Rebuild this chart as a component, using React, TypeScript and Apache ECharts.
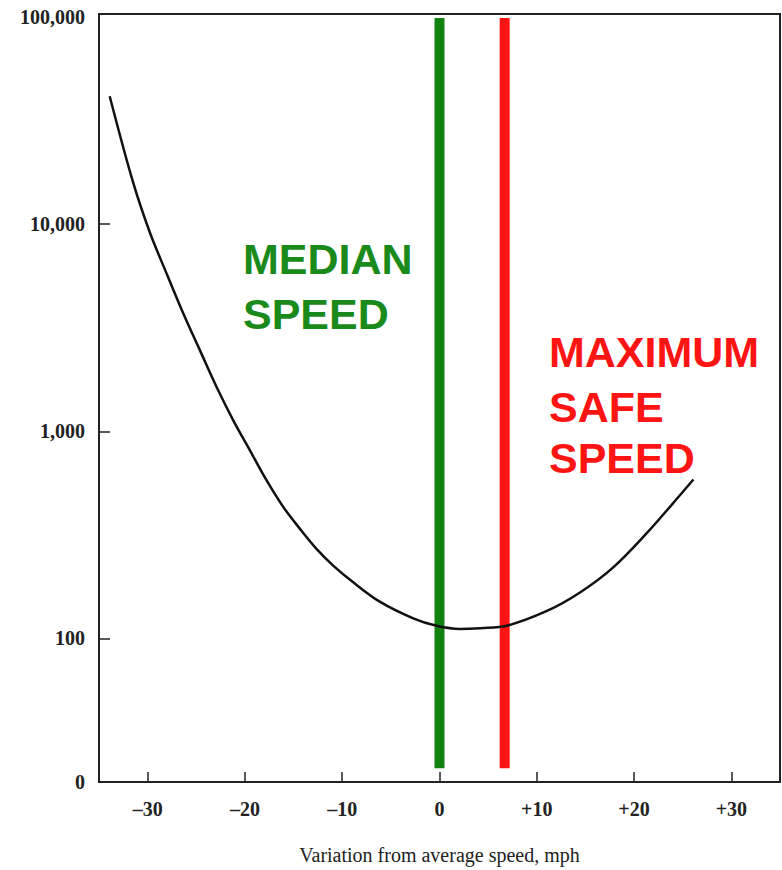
import React, { useEffect, useRef } from "react";
import * as echarts from "echarts";

// Variation from average speed (mph) along the curve
const speedVariation = [-33.9, -31.5, -29.8, -28.0, -26.3, -24.6, -22.9, -21.2, -19.5, -17.8, -16.1, -14.3, -12.6, -10.9, -8.9, -6.1, -2.7, -0.3, 2.1, 4.2, 6.9, 11.1, 14.4, 17.8, 21.3, 24.0, 26.1];
// Accident involvement rate (plotted on a log scale)
const involvementRate = [41500, 15950, 9200, 5700, 3670, 2445, 1632, 1130, 811, 582, 434, 336, 269, 224, 187, 150, 125, 115, 111, 112, 115, 136, 166, 219, 322, 449, 585];

const xTicks = [-30, -20, -10, 0, 10, 20, 30];
const xTickLabels = ["\u201330", "\u201320", "\u201310", "0", "+10", "+20", "+30"];
const yTickValues = [100, 1000, 10000, 100000];
const yTickLabels = ["100", "1,000", "10,000", "100,000"];
const yBottomLabel = "0";

const medianSpeed = 0;
const maxSafeSpeed = 6.7;
const markerSpan = [23.6, 98900];

const Y_MIN = 1.3065;
const Y_MAX = 5.015;

export default function App() {
  const ref = useRef<HTMLDivElement>(null);
  useEffect(() => {
    if (!ref.current) return;
    const chart = echarts.init(ref.current, null, { renderer: "svg" });
    const lg = (v: number) => Math.log10(v);
    const curve = speedVariation.map((x, i) => [x, lg(involvementRate[i])]);
    const yCustom = [Y_MIN, ...yTickValues.map(lg)];
    const yLabelFor = (v: number) => {
      if (v < 1.5) return yBottomLabel;
      const idx = yTickValues.findIndex((t) => Math.abs(lg(t) - v) < 1e-6);
      return idx >= 0 ? yTickLabels[idx] : "";
    };
    const serif = "'Liberation Serif', 'DejaVu Serif', serif";
    const sans = "'Liberation Sans', Arial, sans-serif";
    const green = "#1a8a1a";
    const red = "#ff1414";
    chart.setOption({
      animation: false,
      backgroundColor: "#ffffff",
      grid: {
        left: 99,
        right: 2,
        top: 14,
        bottom: 82,
        show: true,
        borderColor: "#222",
        borderWidth: 2,
        containLabel: false,
      },
      xAxis: {
        type: "value",
        min: -35,
        max: 35,
        name: "Variation from average speed, mph",
        nameLocation: "middle",
        nameGap: 63,
        nameTextStyle: { fontFamily: serif, fontSize: 20, color: "#222" },
        splitLine: { show: false },
        axisLine: { show: true, onZero: false, lineStyle: { color: "#222", width: 2 } },
        axisTick: { show: true, inside: true, length: 10, customValues: xTicks, lineStyle: { color: "#222", width: 1.5 } },
        axisLabel: {
          customValues: xTicks,
          margin: 17,
          fontFamily: serif,
          fontSize: 20,
          fontWeight: "bold",
          color: "#222",
          formatter: (v: number) => {
            const i = xTicks.indexOf(Math.round(v));
            return i >= 0 ? xTickLabels[i] : "";
          },
        },
      },
      yAxis: {
        type: "value",
        min: Y_MIN,
        max: Y_MAX,
        splitLine: { show: false },
        axisLine: { show: true, onZero: false, lineStyle: { color: "#222", width: 2 } },
        axisTick: { show: true, inside: true, length: 11, customValues: yTickValues.slice(0, 3).map(lg), lineStyle: { color: "#222", width: 1.5 } },
        axisLabel: {
          customValues: yCustom,
          margin: 14,
          fontFamily: serif,
          fontSize: 20,
          fontWeight: "bold",
          color: "#222",
          formatter: (v: number) => yLabelFor(v),
        },
      },
      series: [
        {
          type: "line",
          data: [[medianSpeed, lg(markerSpan[0])], [medianSpeed, lg(markerSpan[1])]],
          symbol: "none",
          lineStyle: { color: "#128212", width: 10, cap: "butt" },
          silent: true,
          z: 2,
        },
        {
          type: "line",
          data: [[maxSafeSpeed, lg(markerSpan[0])], [maxSafeSpeed, lg(markerSpan[1])]],
          symbol: "none",
          lineStyle: { color: red, width: 10, cap: "butt" },
          silent: true,
          z: 2,
        },
        {
          type: "line",
          data: curve,
          smooth: 0.35,
          symbol: "none",
          lineStyle: { color: "#111", width: 2.5 },
          z: 3,
        },
      ],
      graphic: [
        { type: "text", x: 243, y: 259, style: { text: "MEDIAN", font: `bold 43px ${sans}`, fill: green, align: "left", verticalAlign: "middle" } },
        { type: "text", x: 243, y: 314, style: { text: "SPEED", font: `bold 43px ${sans}`, fill: green, align: "left", verticalAlign: "middle" } },
        { type: "text", x: 549, y: 352, style: { text: "MAXIMUM", font: `bold 43px ${sans}`, fill: red, align: "left", verticalAlign: "middle" } },
        { type: "text", x: 549, y: 407, style: { text: "SAFE", font: `bold 43px ${sans}`, fill: red, align: "left", verticalAlign: "middle" } },
        { type: "text", x: 549, y: 458, style: { text: "SPEED", font: `bold 43px ${sans}`, fill: red, align: "left", verticalAlign: "middle" } },
      ],
    });
    return () => chart.dispose();
  }, []);
  return <div ref={ref} style={{ position: "fixed", left: 0, top: 0, width: 782, height: 870 }} />;
}
